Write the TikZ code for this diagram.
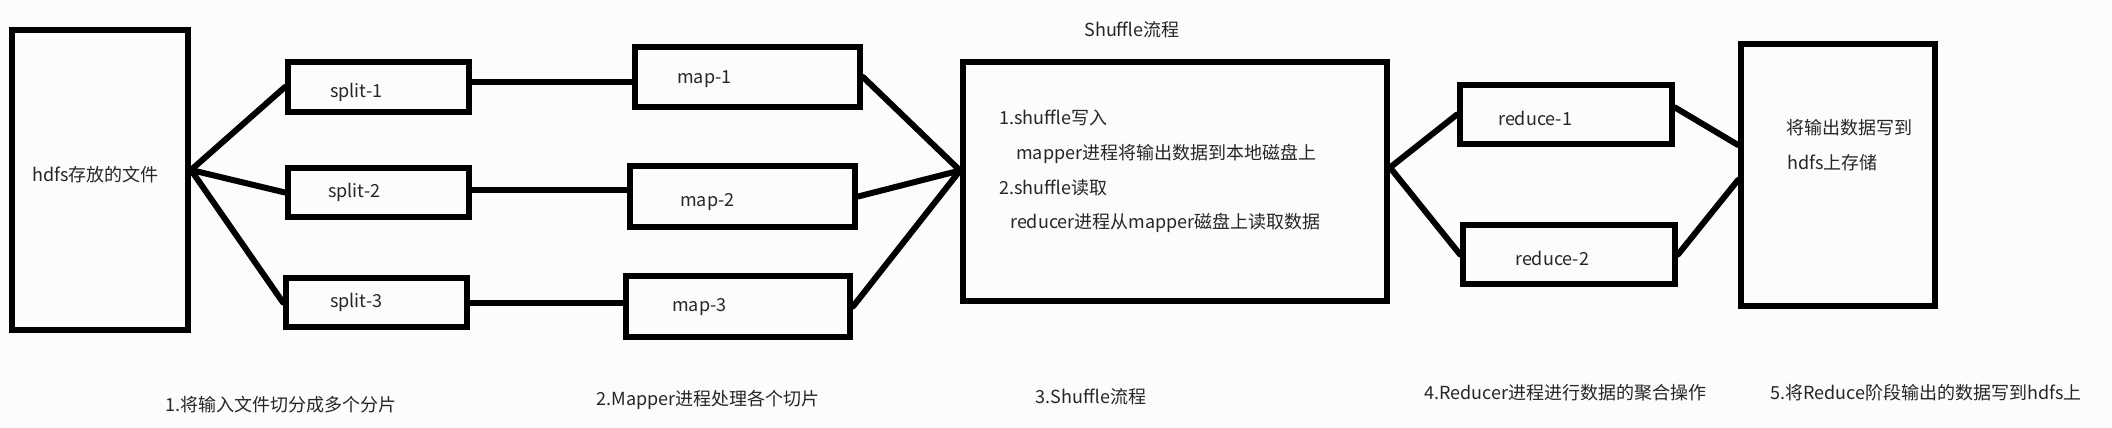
\documentclass[tikz,border=0pt]{standalone}
\usepackage{fontspec}
\setmainfont{Noto Sans CJK SC}
\tikzset{
    stage/.style={
    rectangle,draw=black,line width=6pt,inner sep=0pt
    },
    tag/.style={
    anchor=west,inner sep=0pt,text=black!85,font=\fontsize{18}{22}\selectfont
    },
    caption/.style={
    inner sep=0pt,text=black!85,font=\fontsize{18}{22}\selectfont
    },
    link/.style={
    line width=6pt,line cap=round
    },
}
\begin{document}
\begin{tikzpicture}[x=1pt,y=-1pt]
  \fill[black!1] (0,0) rectangle (2112,428);
  \useasboundingbox (0,0) rectangle (2112,428);

  % boxes
  \node[stage,minimum width=176pt,minimum height=300pt] (hdfs) at (100,180) {};
  \node[stage,minimum width=181pt,minimum height=50pt] (split1) at (378.5,87) {};
  \node[stage,minimum width=181pt,minimum height=49pt] (split2) at (378.5,192.5) {};
  \node[stage,minimum width=181pt,minimum height=49pt] (split3) at (376.5,302.5) {};
  \node[stage,minimum width=225pt,minimum height=60pt] (map1) at (747.5,77) {};
  \node[stage,minimum width=225pt,minimum height=61pt] (map2) at (742.5,196.5) {};
  \node[stage,minimum width=224pt,minimum height=61pt] (map3) at (738,306.5) {};
  \node[stage,minimum width=424pt,minimum height=239pt] (shuffle) at (1175,181.5) {};
  \node[stage,minimum width=212pt,minimum height=59pt] (reduce1) at (1566,114.5) {};
  \node[stage,minimum width=212pt,minimum height=59pt] (reduce2) at (1569,254.5) {};
  \node[stage,minimum width=194pt,minimum height=262pt] (store) at (1838,175) {};

  % texts
  \node[tag] (hdfstxt) at (32,175) {hdfs存放的文件};
  \node[tag] (split1txt) at (330,92) {split-1};
  \node[tag] (split2txt) at (328,192) {split-2};
  \node[tag] (split3txt) at (330,302) {split-3};
  \node[tag] (map1txt) at (677,79) {map-1};
  \node[tag] (map2txt) at (680,202) {map-2};
  \node[tag] (map3txt) at (672,307) {map-3};
  \node[caption] (title) at (1132,30) {Shuffle流程};
  \node[tag] (write) at (999,118) {1.shuffle写入};
  \node[tag] (writetxt) at (1016,154) {mapper进程将输出数据到本地磁盘上};
  \node[tag] (read) at (999,188) {2.shuffle读取};
  \node[tag] (readtxt) at (1010,223) {reducer进程从mapper磁盘上读取数据};
  \node[tag] (reduce1txt) at (1498,118) {reduce-1};
  \node[tag] (reduce2txt) at (1515,258) {reduce-2};
  \node[tag] (storetxt1) at (1786,128) {将输出数据写到};
  \node[tag] (storetxt2) at (1787,163) {hdfs上存储};

  % steps
  \node[caption] (step1) at (281,405) {1.将输入文件切分成多个分片};
  \node[caption] (step2) at (708,400) {2.Mapper进程处理各个切片};
  \node[caption] (step3) at (1091,397) {3.Shuffle流程};
  \node[caption] (step4) at (1565,393) {4.Reducer进程进行数据的聚合操作};
  \node[caption] (step5) at (1926,393) {5.将Reduce阶段输出的数据写到hdfs上};

  \path[link]
    ([yshift=10pt]hdfs.east) edge (split1.west)
                             edge (split2.west)
                             edge (split3.west)
    ([yshift=5pt]split1.east) edge ([yshift=5pt]split1.east -| map1.west)
    ([yshift=3pt]split2.east) edge ([yshift=3pt]split2.east -| map2.west)
    (split3.east) edge (split3.east -| map3.west)
    (map1.east) edge ([yshift=11pt]shuffle.west)
    (map2.east) edge ([yshift=11pt]shuffle.west)
    (map3.east) edge ([yshift=11pt]shuffle.west)
    ([yshift=14pt]shuffle.east) edge (reduce1.west)
                                edge (reduce2.west)
    ([yshift=7pt]reduce1.east) edge ([yshift=30pt]store.west)
    (reduce2.east) edge ([yshift=-5pt]store.west);
\end{tikzpicture}
\end{document}
